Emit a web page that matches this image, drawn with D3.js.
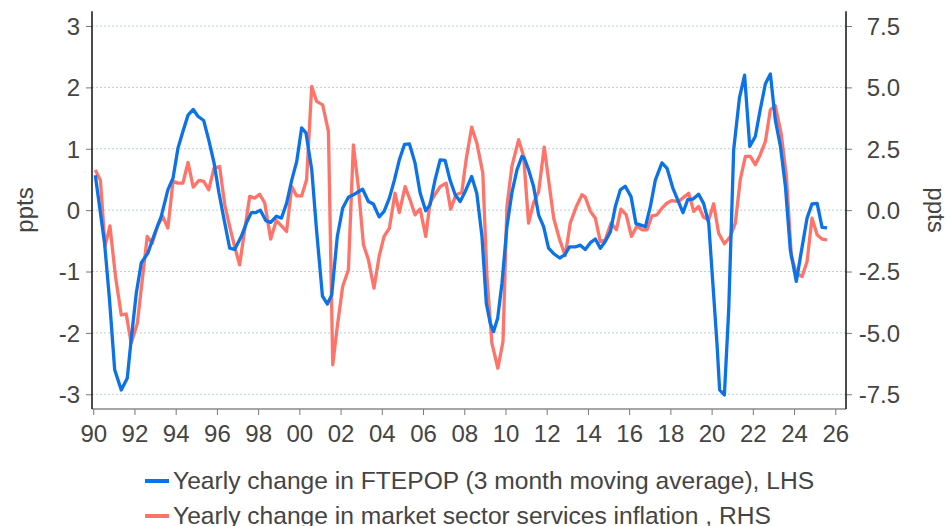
<!DOCTYPE html>
<html><head><meta charset="utf-8">
<script src="https://cdn.jsdelivr.net/npm/d3@7"></script>
<style>
html,body{margin:0;padding:0;background:#fff;}
svg{display:block;font-family:"Liberation Sans",Arial,sans-serif;}
</style></head>
<body><svg id="chart" width="952" height="526"></svg>
<script>
// ---- data ----
const seriesNames = ["Yearly change in FTEPOP (3 month moving average), LHS",
                     "Yearly change in market sector services inflation , RHS"];
const leftTicks = [-3,-2,-1,0,1,2,3];
const leftTickLabels = ["-3","-2","-1","0","1","2","3"];
const rightTicks = [-7.5,-5,-2.5,0,2.5,5,7.5];
const rightTickLabels = ["-7.5","-5.0","-2.5","0.0","2.5","5.0","7.5"];
const xTicks = [1990,1992,1994,1996,1998,2000,2002,2004,2006,2008,2010,2012,2014,2016,2018,2020,2022,2024,2026];
const xTickLabels = ["90","92","94","96","98","00","02","04","06","08","10","12","14","16","18","20","22","24","26"];

const ftepop = [
[1990.10,0.57],[1990.55,-0.54],[1990.79,-1.46],[1991.04,-2.6],[1991.36,-2.93],[1991.65,-2.74],[1991.84,-2.11],
[1992.09,-1.35],[1992.33,-0.86],[1992.65,-0.70],[1992.98,-0.38],[1993.30,-0.10],[1993.62,0.33],[1993.87,0.52],
[1994.11,1.01],[1994.35,1.28],[1994.60,1.55],[1994.85,1.64],[1995.08,1.53],[1995.36,1.46],[1995.60,1.15],[1995.86,0.77],
[1996.10,0.28],[1996.38,-0.21],[1996.62,-0.62],[1996.86,-0.64],[1997.18,-0.43],[1997.43,-0.21],[1997.67,-0.04],[1997.88,-0.04],
[1998.11,0.00],[1998.37,-0.17],[1998.61,-0.20],[1998.88,-0.10],[1999.13,-0.13],[1999.38,0.11],[1999.63,0.49],[1999.87,0.79],
[2000.11,1.34],[2000.32,1.26],[2000.60,0.66],[2000.84,-0.35],[2001.12,-1.40],[2001.36,-1.53],[2001.57,-1.38],[2001.84,-0.43],
[2002.10,0.03],[2002.38,0.21],[2002.62,0.25],[2002.86,0.30],[2003.07,0.34],[2003.35,0.14],[2003.59,0.10],[2003.87,-0.11],
[2004.11,-0.02],[2004.37,0.20],[2004.61,0.49],[2004.85,0.82],[2005.10,1.07],[2005.34,1.08],[2005.61,0.77],[2005.86,0.28],
[2006.13,-0.01],[2006.34,0.09],[2006.58,0.49],[2006.83,0.82],[2007.07,0.81],[2007.31,0.49],[2007.56,0.25],[2007.80,0.14],
[2008.04,0.30],[2008.36,0.55],[2008.61,0.27],[2008.86,-0.43],[2009.07,-1.52],[2009.26,-1.84],[2009.42,-1.98],[2009.62,-1.76],
[2009.83,-1.19],[2010.07,-0.27],[2010.31,0.28],[2010.56,0.66],[2010.80,0.875],[2010.91,0.85],[2011.12,0.66],[2011.36,0.39],
[2011.61,-0.08],[2011.85,-0.27],[2012.09,-0.62],[2012.34,-0.71],[2012.63,-0.78],[2012.87,-0.73],[2013.11,-0.60],[2013.39,-0.60],
[2013.63,-0.57],[2013.87,-0.64],[2014.12,-0.53],[2014.36,-0.47],[2014.60,-0.62],[2014.84,-0.51],[2015.09,-0.35],[2015.33,0.06],
[2015.57,0.33],[2015.81,0.39],[2016.09,0.22],[2016.33,-0.22],[2016.54,-0.24],[2016.79,-0.27],[2017.03,0.06],[2017.27,0.49],
[2017.59,0.77],[2017.84,0.68],[2018.12,0.36],[2018.35,0.17],[2018.61,-0.04],[2018.84,0.17],[2019.10,0.18],[2019.37,0.26],
[2019.61,0.11],[2019.86,-0.21],[2020.07,-1.24],[2020.26,-2.17],[2020.39,-2.93],[2020.62,-3.01],[2020.83,-1.62],[2021.07,0.98],
[2021.35,1.83],[2021.60,2.20],[2021.85,1.04],[2022.12,1.20],[2022.36,1.64],[2022.61,2.06],[2022.85,2.22],[2023.09,1.47],
[2023.34,1.04],[2023.58,0.39],[2023.82,-0.65],[2024.11,-1.16],[2024.34,-0.70],[2024.63,-0.13],[2024.87,0.10],[2025.12,0.11],
[2025.36,-0.28],[2025.60,-0.29]
];

const services = [
[1990.10,1.64],[1990.35,1.21],[1990.57,-1.48],[1990.81,-0.64],[1991.08,-2.70],[1991.36,-4.27],[1991.60,-4.23],[1991.84,-5.42],
[1992.14,-4.61],[1992.36,-2.98],[1992.62,-1.07],[1992.86,-1.35],[1993.14,-0.60],[1993.38,-0.26],[1993.62,-0.73],[1993.87,1.17],
[1994.11,1.10],[1994.35,1.10],[1994.60,1.94],[1994.85,0.94],[1995.13,1.21],[1995.36,1.17],[1995.60,0.83],[1995.86,1.71],
[1996.13,1.78],[1996.38,0.22],[1996.62,-0.67],[1996.86,-1.48],[1997.10,-2.23],[1997.35,-0.80],[1997.59,0.56],[1997.83,0.49],
[1998.07,0.65],[1998.32,0.29],[1998.61,-1.18],[1998.88,-0.42],[1999.13,-0.64],[1999.38,-0.87],[1999.63,0.96],[1999.87,0.58],
[2000.11,0.58],[2000.35,1.24],[2000.60,5.04],[2000.84,4.43],[2001.13,4.29],[2001.41,3.21],[2001.62,-6.30],[2001.84,-4.74],
[2002.10,-3.11],[2002.38,-2.43],[2002.62,2.66],[2002.86,0.96],[2003.11,-1.41],[2003.35,-2.02],[2003.62,-3.18],[2003.87,-1.89],
[2004.11,-1.07],[2004.37,-0.73],[2004.64,0.69],[2004.85,-0.10],[2005.13,0.96],[2005.37,0.42],[2005.61,-0.19],[2005.86,0.05],
[2006.13,-1.07],[2006.34,0.29],[2006.58,0.63],[2006.83,0.96],[2007.12,1.10],[2007.34,0.04],[2007.60,0.63],[2007.88,0.72],
[2008.09,2.05],[2008.36,3.38],[2008.61,2.73],[2008.90,1.51],[2009.10,-2.70],[2009.34,-5.42],[2009.63,-6.44],[2009.88,-5.35],
[2010.07,0.15],[2010.31,1.78],[2010.64,2.87],[2010.88,2.19],[2011.12,-0.53],[2011.36,0.29],[2011.61,0.76],[2011.88,2.57],
[2012.09,1.24],[2012.34,-0.33],[2012.63,-1.21],[2012.90,-1.86],[2013.14,-0.53],[2013.44,0.15],[2013.71,0.63],[2013.87,0.53],
[2014.12,-0.05],[2014.36,-0.33],[2014.60,-1.28],[2014.84,-1.21],[2015.12,-0.53],[2015.38,-0.80],[2015.60,0.04],[2015.86,-0.19],
[2016.11,-1.07],[2016.38,-0.64],[2016.62,-0.80],[2016.87,-0.80],[2017.11,-0.23],[2017.35,-0.19],[2017.59,0.08],[2017.84,0.29],
[2018.08,0.39],[2018.40,0.35],[2018.64,0.52],[2018.89,0.69],[2019.13,-0.05],[2019.37,0.15],[2019.61,-0.29],[2019.86,-0.39],
[2020.10,0.26],[2020.34,-0.94],[2020.62,-1.37],[2020.91,-1.07],[2021.15,-0.53],[2021.39,1.24],[2021.64,2.19],[2021.88,2.19],
[2022.12,1.85],[2022.36,2.26],[2022.61,2.80],[2022.85,4.09],[2023.09,4.25],[2023.37,3.14],[2023.63,1.37],[2023.87,-1.89],
[2024.11,-2.57],[2024.39,-2.70],[2024.63,-2.09],[2024.87,-0.33],[2025.12,-1.00],[2025.36,-1.18],[2025.60,-1.21]
];

// ---- layout ----
const svg = d3.select("#chart");
const L = 92, R = 846, T = 11.3, B = 409;
const x = d3.scaleLinear().domain([1989.94, 2026.52]).range([L, R]);
const yL = d3.scaleLinear().domain([-3.24, 3.24]).range([B, T]);
const yR = d3.scaleLinear().domain([-8.1, 8.1]).range([B, T]);
const textColor = "#444";
const fontSize = 24;

// gridlines
svg.append("g").selectAll("line").data(leftTicks).join("line")
  .attr("x1", L).attr("x2", R)
  .attr("y1", d => yL(d)).attr("y2", d => yL(d))
  .attr("stroke", "#bccfd8").attr("stroke-width", 1).attr("stroke-dasharray", "2,2");

// axes
const axL = svg.append("g").attr("transform", `translate(${L},0)`)
  .call(d3.axisLeft(yL).tickValues(leftTicks).tickSize(6).tickPadding(6)
    .tickFormat((d,i) => leftTickLabels[i]));
const axR = svg.append("g").attr("transform", `translate(${R},0)`)
  .call(d3.axisRight(yR).tickValues(rightTicks).tickSize(6).tickPadding(6)
    .tickFormat((d,i) => rightTickLabels[i]));
const axB = svg.append("g").attr("transform", `translate(0,${B})`)
  .call(d3.axisBottom(x).tickValues(xTicks).tickSize(6).tickPadding(10)
    .tickFormat((d,i) => xTickLabels[i]));

[axL, axR, axB].forEach(a => {
  a.selectAll(".domain").remove();
  a.selectAll(".tick line").attr("stroke", "#777");
  a.selectAll("text").attr("fill", textColor).attr("font-size", fontSize)
    .attr("font-family", "'Liberation Sans', Arial, sans-serif");
});
axL.selectAll("text").attr("dy", "0.35em");
axR.selectAll("text").attr("text-anchor", "end").attr("x", 54).attr("dy", "0.35em");
axB.selectAll("text").attr("dy", "0.71em");

// axis lines
svg.append("line").attr("x1", L).attr("x2", R).attr("y1", B).attr("y2", B)
  .attr("stroke", "#888").attr("stroke-width", 1.5);
svg.append("line").attr("x1", L).attr("x2", L).attr("y1", T).attr("y2", B)
  .attr("stroke", "#111").attr("stroke-width", 1.5);
svg.append("line").attr("x1", R).attr("x2", R).attr("y1", T).attr("y2", B)
  .attr("stroke", "#111").attr("stroke-width", 1.5);

// lines
const blue = "#0b72e7", red = "#ff7369";
svg.append("path").datum(services)
  .attr("fill", "none").attr("stroke", red).attr("stroke-width", 3.3)
  .attr("stroke-linejoin", "round")
  .attr("d", d3.line().x(d => x(d[0])).y(d => yR(d[1])));
svg.append("path").datum(ftepop)
  .attr("fill", "none").attr("stroke", blue).attr("stroke-width", 3.3)
  .attr("stroke-linejoin", "round")
  .attr("d", d3.line().x(d => x(d[0])).y(d => yL(d[1])));

// axis titles
svg.append("text").attr("transform", "translate(24,210) rotate(-90)")
  .attr("text-anchor", "middle").attr("dominant-baseline", "central")
  .attr("font-size", fontSize).attr("fill", textColor).text("ppts");
svg.append("text").attr("transform", "translate(936,210) rotate(90)")
  .attr("text-anchor", "middle").attr("dominant-baseline", "central")
  .attr("font-size", fontSize).attr("fill", textColor).text("ppts");

// legend
const colors = [blue, red];
const lg = svg.append("g").selectAll("g").data(seriesNames).join("g")
  .attr("transform", (d,i) => `translate(145,${481 + i*35})`);
lg.append("line").attr("x1", 0).attr("x2", 24).attr("y1", 0).attr("y2", 0)
  .attr("stroke", (d,i) => colors[i]).attr("stroke-width", 4);
lg.append("text").attr("x", 28).attr("y", 8).attr("font-size", 24.6)
  .attr("fill", textColor).text(d => d);
</script>
</body></html>
